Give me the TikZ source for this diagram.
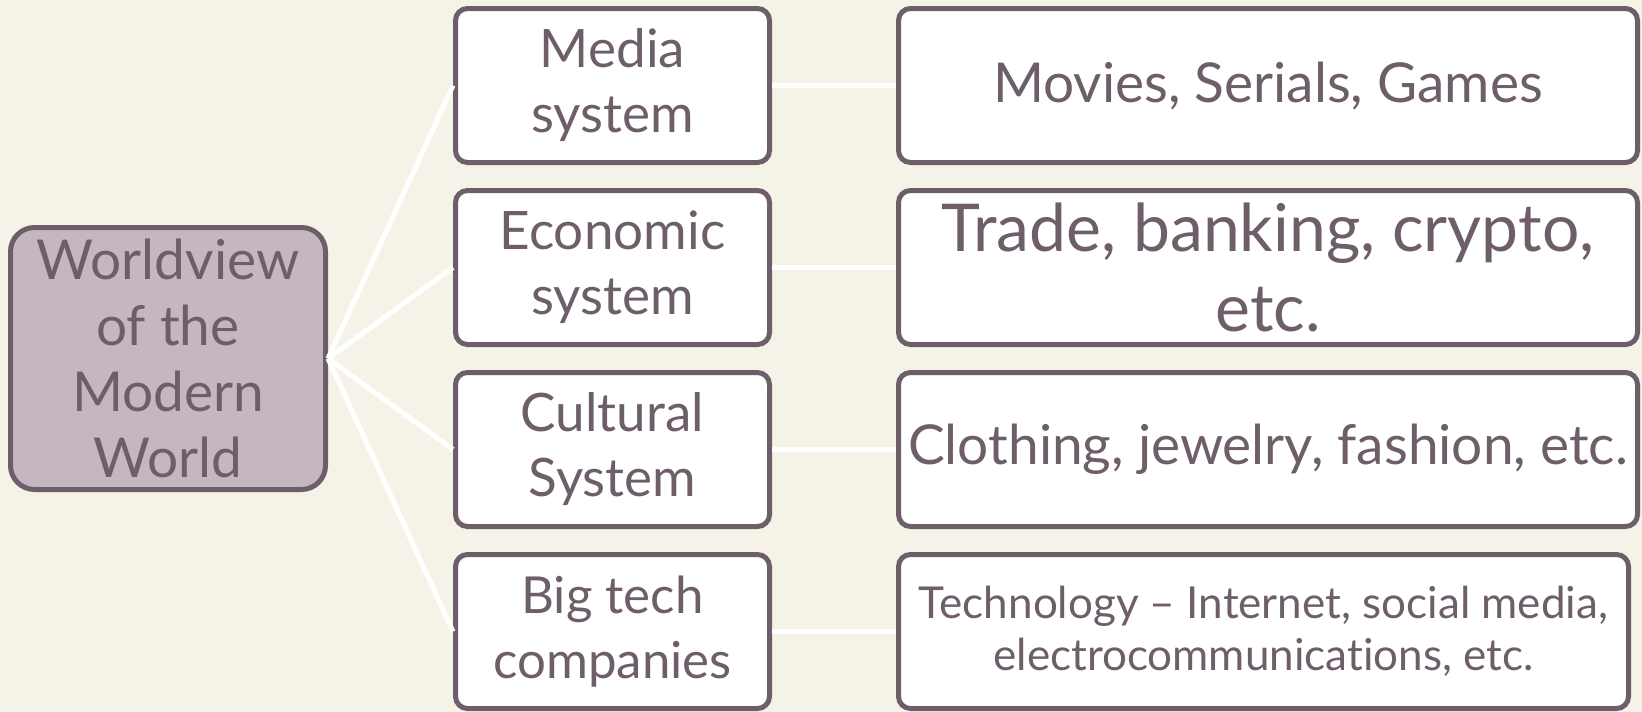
\documentclass[tikz,border=0pt]{standalone}
\usepackage{fontspec}
\setmainfont{Lato}[Ligatures=NoCommon]
\definecolor{paper}{HTML}{F5F3E8}
\definecolor{plum}{HTML}{6E5E6A}
\definecolor{mauve}{HTML}{C4B7C1}
\tikzset{
  box/.style={rectangle, rounded corners=12pt, draw=plum, line width=5pt, fill=white,
    text=plum, align=center, inner sep=0pt, minimum height=154pt},
  sysbox/.style={box, minimum width=314pt, font=\fontsize{53}{65}\selectfont},
  itembox/.style={box, minimum width=739pt},
  link/.style={draw=white, line width=5pt}
}
\begin{document}
\begin{tikzpicture}[x=1pt, y=-1pt]
    \fill[paper] (0,0) rectangle (1642,712);
    \useasboundingbox (0,0) rectangle (1642,712);

    \node [box, fill=mauve, rounded corners=24pt, minimum width=315pt, minimum height=262pt,
      font=\fontsize{55}{66}\selectfont] (root) at (168,358.5) {Worldview\\of the\\Modern\\World};

    \node [sysbox] (media) at (612.5,85.5) {Media\\system};
    \node [sysbox] (economic) at (612.5,267.5) {Economic\\system};
    \node [sysbox] (cultural) at (612.5,449.5) {Cultural\\System};
    \node [sysbox, font=\fontsize{51}{65}\selectfont] (bigtech) at (612.5,631.5) {Big tech\\companies};

    \node [itembox, font=\fontsize{55}{66}\selectfont] (movies) at (1268,85.5) {Movies, Serials, Games};
    \node [itembox, font=\fontsize{66}{80}\selectfont] (trade) at (1268,267.5) {Trade, banking, crypto,\\etc.};
    \node [itembox, font=\fontsize{55}{66}\selectfont] (clothing) at (1268,449.5) {Clothing, jewelry, fashion, etc.};
    \node [itembox, minimum width=730pt, font=\fontsize{44}{52}\selectfont] (technology) at (1263.5,631.5) {Technology -- Internet, social media,\\electrocommunications, etc.};

    \draw[link] (root.east) -- (media.west);
    \draw[link] (root.east) -- (economic.west);
    \draw[link] (root.east) -- (cultural.west);
    \draw[link] (root.east) -- (bigtech.west);
    \draw[link] (media) -- (movies);
    \draw[link] (economic) -- (trade);
    \draw[link] (cultural) -- (clothing);
    \draw[link] (bigtech) -- (technology);
\end{tikzpicture}
\end{document}
